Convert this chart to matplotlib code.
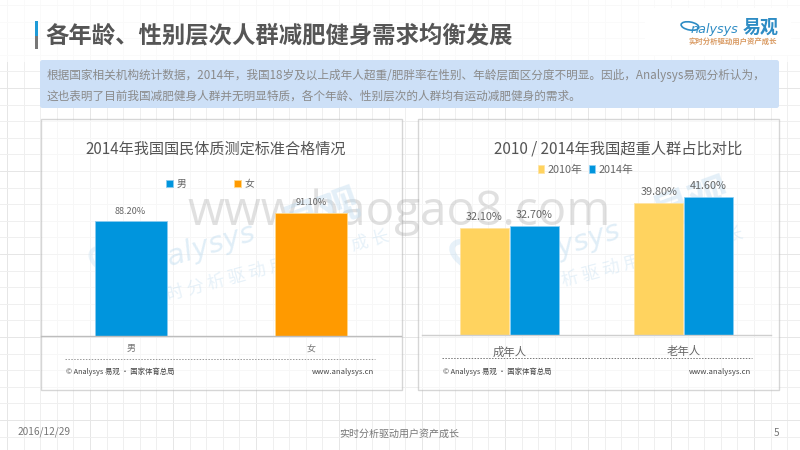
import numpy as np
import matplotlib
matplotlib.use("Agg")
import matplotlib.pyplot as plt
from matplotlib.patches import Rectangle, FancyBboxPatch, Ellipse

plt.rcParams['font.family'] = ['Noto Sans CJK SC', 'DejaVu Sans']

# data
title_main = "各年龄、性别层次人群减肥健身需求均衡发展"
body_1 = "根据国家相关机构统计数据\uff0c2014年\uff0c我国18岁及以上成年人超重/肥胖率在性别、年龄层面区分度不明显。因此\uff0cAnalysys易观分析认为\uff0c"
body_2 = "这也表明了目前我国减肥健身人群并无明显特质\uff0c各个年龄、性别层次的人群均有运动减肥健身的需求。"
left_title = "2014年我国国民体质测定标准合格情况"
left_categories = ["男", "女"]
left_values = [88.2, 91.1]
right_title = "2010 / 2014年我国超重人群占比对比"
right_categories = ["成年人", "老年人"]
values_2010 = [32.1, 39.8]
values_2014 = [32.7, 41.6]
series_names = ["2010年", "2014年"]

BLUE = "#0095DD"
ORANGE = "#FF9A00"
YELLOW = "#FFD35F"
W, H = 800, 450

fig = plt.figure(figsize=(8, 4.5), dpi=100, facecolor="white")

def px_axes(x0, y_top, x1, y_bottom, **kw):
    return fig.add_axes([x0 / W, 1 - y_bottom / H, (x1 - x0) / W, (y_bottom - y_top) / H], **kw)

bg = fig.add_axes([0, 0, 1, 1], zorder=0)
bg.set_xlim(0, W); bg.set_ylim(H, 0); bg.axis("off")

# background grid
for i, x in enumerate(np.arange(7, W, 16.6)):
    bg.plot([x, x], [0, H], color="#e6e6e6" if i % 5 == 0 else "#efefef", lw=0.7, zorder=0)
for i, y in enumerate(np.arange(5, H, 16.6)):
    bg.plot([0, W], [y, y], color="#e6e6e6" if i % 5 == 0 else "#efefef", lw=0.7, zorder=0)
bg.add_patch(Rectangle((0, 0), W, 62, fc="white", alpha=0.75, ec="none", zorder=0.5))

# title
bg.add_patch(Rectangle((35, 21), 3, 15, fc="#1E9BD7", ec="none", zorder=2))
bg.add_patch(Rectangle((35, 36), 3, 13, fc="#777777", ec="none", zorder=2))
bg.text(45.5, 35.5, title_main, fontsize=16.8, fontweight="bold", color="#555555", va="center", ha="left", zorder=3)

# logo
bg.add_patch(Rectangle((645, 8), 146, 47, fc="white", ec="none", zorder=1))
bg.add_patch(Ellipse((690, 26), 18, 8, angle=10, fc="none", ec="#2E8CC4", lw=1.2, zorder=3))
bg.text(691, 29, "nalysys", fontsize=9.2, style="italic", color="#2E8CC4", va="center", family=["DejaVu Sans"], zorder=3)
bg.text(743, 27, "易观", fontsize=13, fontweight="bold", color="#2E8CC4", va="center", zorder=3)
bg.text(733, 41, "实时分析驱动用户资产成长", fontsize=5.3, fontweight="bold", color="#D99A62", va="center", ha="center", zorder=3)

# text band
bg.add_patch(FancyBboxPatch((40, 60), 739, 48, boxstyle="round,pad=0,rounding_size=2.5", fc="#CDE0F7", ec="none", zorder=1))
bg.text(47, 75, body_1, fontsize=8.4, color="#8A8A8A", va="center", zorder=3)
bg.text(47, 96, body_2, fontsize=8.4, color="#8A8A8A", va="center", zorder=3)

# panels
for x0, x1 in [(40.5, 402), (417.5, 778.5)]:
    bg.add_patch(Rectangle((x0, 118.5), x1 - x0, 271.5, fc="white", alpha=0.55, ec="#B5B5B5", lw=1, zorder=1))
bg.plot([65, 375], [358.5, 358.5], color="#999999", lw=0.7, ls=(0, (1.5, 1.5)), zorder=3)
bg.plot([442, 752], [357.5, 357.5], color="#777777", lw=0.7, ls=(0, (1.5, 1.5)), zorder=3)
bg.text(215.5, 149, left_title, fontsize=10.9, color="#555555", ha="center", va="center", zorder=3)
bg.text(618.5, 149, right_title, fontsize=11, color="#555555", ha="center", va="center", zorder=3)
for x, cap, site in [(66, "© Analysys 易观 · 国家体育总局", 374), (443, "© Analysys 易观 · 国家体育总局", 751)]:
    bg.text(x, 372, cap, fontsize=5.3, color="#444444", va="center", zorder=3)
    bg.text(site, 372, "www.analysys.cn", fontsize=5.5, color="#444444", va="center", ha="right", zorder=3)

# watermarks
WM = "#BBD9EE"
slogan = " ".join("实时分析驱动用户资产成长")
bg.text(399, 212, "www.baogao8.com", fontsize=34.3, color="#9a9a9a", alpha=0.3, ha="center", va="center",
        family=["Open Sans"], zorder=2)
for ax_x, ax_y, mark_x, mark_y, sl_x, sl_y in [(203, 248, 322, 216, 268, 268), (568, 246, 692, 205, 622, 265)]:
    bg.text(ax_x, ax_y, "nalysys", fontsize=21, style="italic", color=WM, alpha=0.45, rotation=17,
            rotation_mode="anchor", ha="center", va="center", family=["DejaVu Sans"], zorder=2)
    bg.text(mark_x, mark_y, "易观", fontsize=29, fontweight="bold", color=WM, alpha=0.4, rotation=20,
            rotation_mode="anchor", ha="center", va="center", zorder=2)
    bg.text(sl_x, sl_y, slogan, fontsize=12.5, color=WM, alpha=0.35, rotation=15,
            rotation_mode="anchor", ha="center", va="center", zorder=2)
bg.add_patch(Ellipse((478, 258), 56, 26, angle=25, fc="none", ec=WM, lw=4, alpha=0.35, zorder=2))
bg.add_patch(Ellipse((112, 262), 46, 24, angle=25, fc="none", ec=WM, lw=3, alpha=0.3, zorder=2))

# footer
bg.text(18, 432, "2016/12/29", fontsize=7.3, color="#777777", va="center", zorder=3)
bg.text(399.5, 433.5, "实时分析驱动用户资产成长", fontsize=7.2, color="#777777", ha="center", va="center", zorder=3)
bg.text(777, 433, "5", fontsize=7.3, color="#777777", ha="center", va="center", zorder=3)

def style(ax, color):
    ax.patch.set_alpha(0)
    for s in ["top", "left", "right"]:
        ax.spines[s].set_visible(False)
    ax.spines["bottom"].set_color(color)
    ax.spines["bottom"].set_linewidth(1)
    ax.set_yticks([])
    ax.tick_params(axis="x", length=0)

# left chart
axl = px_axes(40.5, 186.6, 401, 336, zorder=2)
style(axl, "#BDBDBD")
bars = axl.bar(left_categories, left_values, width=0.4, color=[BLUE, ORANGE], edgecolor=["#8CCBEE", "#FFD98A"], linewidth=0.6)
axl.set_xlim(-0.5, 1.5)
axl.set_ylim(49, 100)
axl.set_xticks([0, 1], left_categories, fontsize=6.5, color="#777777")
axl.tick_params(axis="x", pad=6)
axl.bar_label(bars, labels=[f"{v:.2f}%" for v in left_values], fontsize=6.6, color="#666666", padding=4)
axl.legend(handles=[bars[0], bars[1]], labels=left_categories, loc="center", bbox_to_anchor=(210 / W, 1 - 184 / H),
           bbox_transform=fig.transFigure, ncol=2, frameon=False, fontsize=7, labelcolor="#666666",
           handlelength=0.7, handleheight=0.7, handletextpad=0.4, columnspacing=4.9, borderpad=0)

# right chart
axr = px_axes(422, 168.8, 771, 335.3, zorder=2)
style(axr, "#CFCFCF")
xs = np.arange(len(right_categories))
b1 = axr.bar(xs - 0.143, values_2010, width=0.281, color=YELLOW, edgecolor="#FFE3A0", linewidth=0.5, label=series_names[0])
b2 = axr.bar(xs + 0.143, values_2014, width=0.281, color=BLUE, edgecolor="#8CD0F5", linewidth=0.5, label=series_names[1])
axr.set_xlim(-0.5, 1.5)
axr.set_ylim(0, 50)
axr.set_xticks(xs, right_categories, fontsize=8.2, color="#666666")
axr.tick_params(axis="x", pad=8)
axr.bar_label(b1, labels=[f"{v:.2f}%" for v in values_2010], fontsize=7.8, color="#666666", padding=4.5)
axr.bar_label(b2, labels=[f"{v:.2f}%" for v in values_2014], fontsize=7.8, color="#666666", padding=4.5)
axr.legend(loc="center", bbox_to_anchor=(586 / W, 1 - 169.5 / H), bbox_transform=fig.transFigure, ncol=2, frameon=False,
           fontsize=7.8, labelcolor="#666666", handlelength=0.55, handleheight=0.7, handletextpad=0.35,
           columnspacing=0.6, borderpad=0)

fig.savefig("out.png", dpi=100)
